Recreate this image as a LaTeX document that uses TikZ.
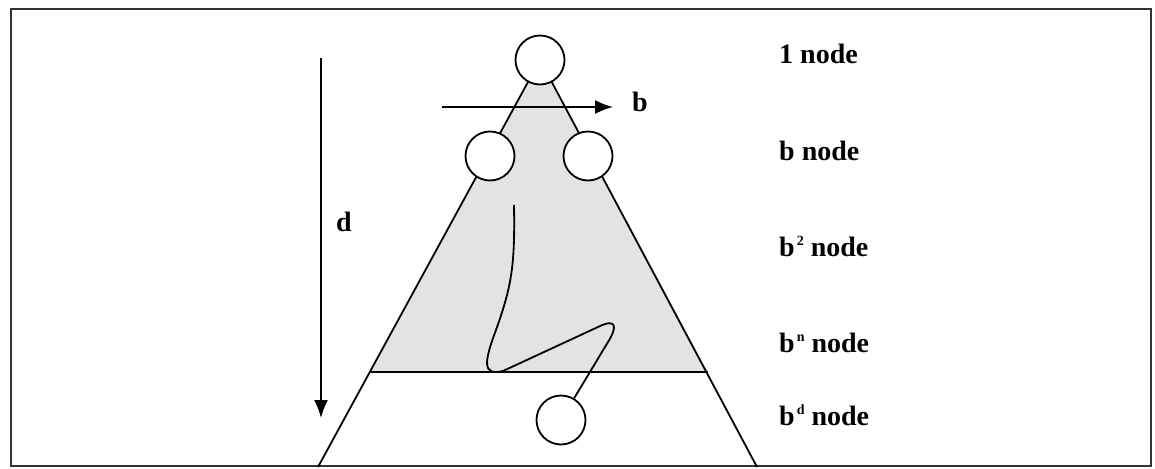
\documentclass[tikz,border=0pt]{standalone}
\usepackage{fontspec}
\setmainfont{Liberation Serif}
\usetikzlibrary{arrows.meta}
\newcommand{\sups}[1]{\kern2pt\raisebox{11pt}{\fontsize{14}{14}\selectfont #1}}
\tikzset{
  circ/.style={circle, draw, line width=1.8pt, fill=white, minimum size=49pt, inner sep=0pt},
  lbl/.style={anchor=base west, inner sep=0pt, font=\fontsize{28}{32}\selectfont\bfseries},
  ln/.style={line width=1.8pt},
  arr/.style={line width=1.8pt, -{Latex[length=18pt,width=14pt]}}
}
\begin{document}
\begin{tikzpicture}[x=1pt,y=-1pt]
\useasboundingbox (0,0) rectangle (1155,468);
\draw[line width=2pt, black!80] (11,9) rectangle (1151,466);
% shaded triangle
\fill[gray!22] (540,60) -- (369,372) -- (708,372) -- cycle;
% trapezoid / triangle outline
\draw[ln] (540,60) -- (318,467);
\draw[ln] (540,60) -- (757,467);
\draw[ln] (369,372) -- (708,372);
% circles
\node[circ] (top) at (540,60) {};
\node[circ] (left) at (490,156) {};
\node[circ] (right) at (588,156) {};
\node[circ] (bot) at (561,420) {};
% arrows
\coordinate (bs) at (442,107);
\coordinate (be) at (613,107);
\draw[arr] (bs) -- (be);
\node[lbl] (blab) at (632,111) {b};
\coordinate (ds) at (321,58);
\coordinate (de) at (321,418);
\draw[arr] (ds) -- (de);
\node[lbl] (dlab) at (336,231) {d};
% path
\coordinate (ps) at (514,205);
\draw[ln] (ps) .. controls (515,265) and (512,285) .. (496,330)
  .. controls (484,362) and (482,376) .. (503,371)
  -- (598,327) .. controls (616,318) and (618,326) .. (608,342)
  -- (bot);
% labels
\node[lbl] (l1) at (779,64) {1 node};
\node[lbl] (l2) at (779,160) {b node};
\node[lbl] (l3) at (779,256) {b\sups{2} node};
\node[lbl] (l4) at (779,352) {b\sups{n} node};
\node[lbl] (l5) at (779,425) {b\sups{d} node};
\end{tikzpicture}
\end{document}
